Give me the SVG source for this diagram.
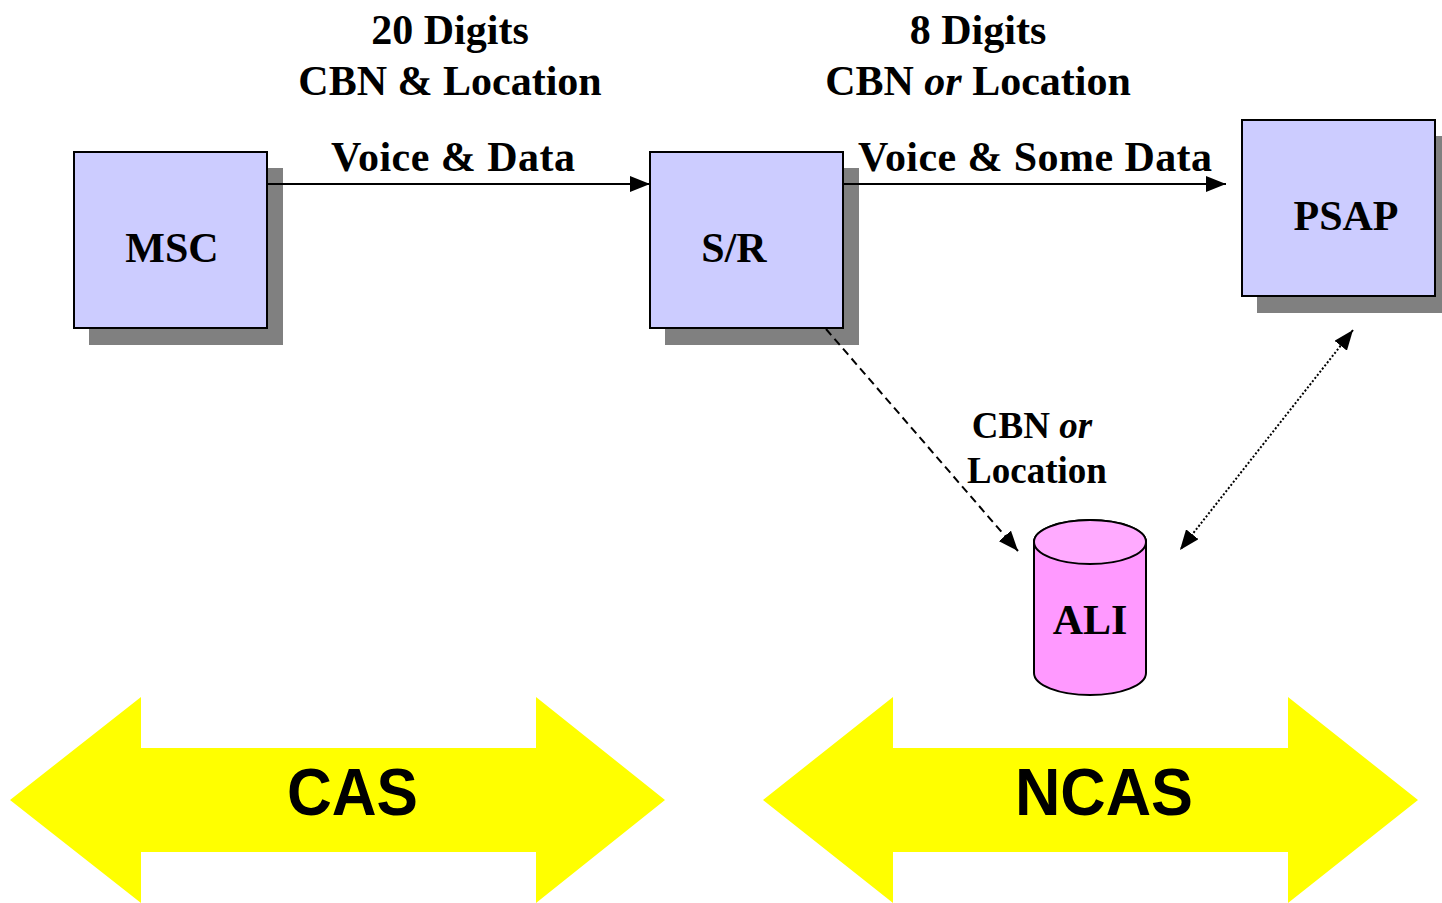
<svg xmlns="http://www.w3.org/2000/svg" width="1442" height="903" viewBox="0 0 1442 903">
<style>
.t{font-family:"Liberation Serif","Times New Roman",serif;font-weight:bold;fill:#000}
.box{fill:#CCCCFF;stroke:#000;stroke-width:2}
.sh{fill:#808080}
.c{stroke:#000;stroke-width:2;fill:none}
.big{font-family:"Liberation Sans",Arial,sans-serif;font-weight:bold;fill:#000;font-size:66px}
</style>
<defs>
<marker id="ah" viewBox="0 0 20 16" refX="20" refY="8" markerWidth="20" markerHeight="16" markerUnits="userSpaceOnUse" orient="auto-start-reverse"><path d="M0,0 L20,8 L0,16 Z" fill="#000"/></marker>
</defs>
<rect width="1442" height="903" fill="#fff"/>
<g id="labels">
<text class="t" font-size="42" x="450" y="44" text-anchor="middle">20 Digits</text>
<text class="t" font-size="42" x="450" y="95" text-anchor="middle">CBN &amp; Location</text>
<text class="t" font-size="42" x="453" y="171" text-anchor="middle" textLength="244">Voice &amp; Data</text>
<text class="t" font-size="42" x="978" y="44" text-anchor="middle">8 Digits</text>
<text class="t" font-size="42" x="978" y="95" text-anchor="middle">CBN <tspan font-style="italic">or</tspan> Location</text>
<text class="t" font-size="42" x="1035" y="171" text-anchor="middle" textLength="354">Voice &amp; Some Data</text>
<text class="t" font-size="37" x="1032" y="438" text-anchor="middle">CBN <tspan font-style="italic">or</tspan></text>
<text class="t" font-size="37" x="1037" y="483" text-anchor="middle">Location</text>
</g>
<g id="msc">
<rect class="sh" x="89" y="168" width="194" height="177"/>
<rect class="box" x="74" y="152" width="193" height="176"/>
<text class="t" font-size="42" x="172" y="262" text-anchor="middle">MSC</text>
</g>
<g id="sr">
<rect class="sh" x="665" y="168" width="194" height="177"/>
<rect class="box" x="650" y="152" width="193" height="176"/>
<text class="t" font-size="42" x="734" y="262" text-anchor="middle">S/R</text>
</g>
<g id="psap">
<rect class="sh" x="1257" y="136" width="194" height="177"/>
<rect class="box" x="1242" y="120" width="193" height="176"/>
<text class="t" font-size="42" x="1346" y="230" text-anchor="middle">PSAP</text>
</g>
<g id="ali">
<path d="M1034,542 L1034,673 A56,22 0 0 0 1146,673 L1146,542 A56,22 0 0 0 1034,542 Z" fill="#FF99FF" stroke="#000" stroke-width="2"/>
<ellipse cx="1090" cy="542" rx="56" ry="22" fill="#FFAAFF" stroke="#000" stroke-width="2"/>
<text class="t" font-size="42" x="1090" y="634" text-anchor="middle">ALI</text>
</g>
<g id="connectors">
<line class="c" x1="267" y1="184" x2="650" y2="184" marker-end="url(#ah)"/>
<line class="c" x1="843" y1="184" x2="1226" y2="184" marker-end="url(#ah)"/>
<line class="c" x1="826" y1="329" x2="1018" y2="551" stroke-dasharray="8,5" marker-end="url(#ah)"/>
<line class="c" x1="1353" y1="330" x2="1180" y2="550" stroke-width="1.5" stroke-dasharray="2,2" marker-start="url(#ah)" marker-end="url(#ah)"/>
</g>
<g id="cas">
<polygon points="10,800 141,697 141,748 536,748 536,697 665,800 536,903 536,852 141,852 141,903" fill="#FFFF00"/>
<text class="big" x="287" y="815" textLength="131" lengthAdjust="spacingAndGlyphs">CAS</text>
</g>
<g id="ncas">
<polygon points="763,800 893,697 893,748 1288,748 1288,697 1418,800 1288,903 1288,852 893,852 893,903" fill="#FFFF00"/>
<text class="big" x="1015" y="815" textLength="178" lengthAdjust="spacingAndGlyphs">NCAS</text>
</g>
</svg>
